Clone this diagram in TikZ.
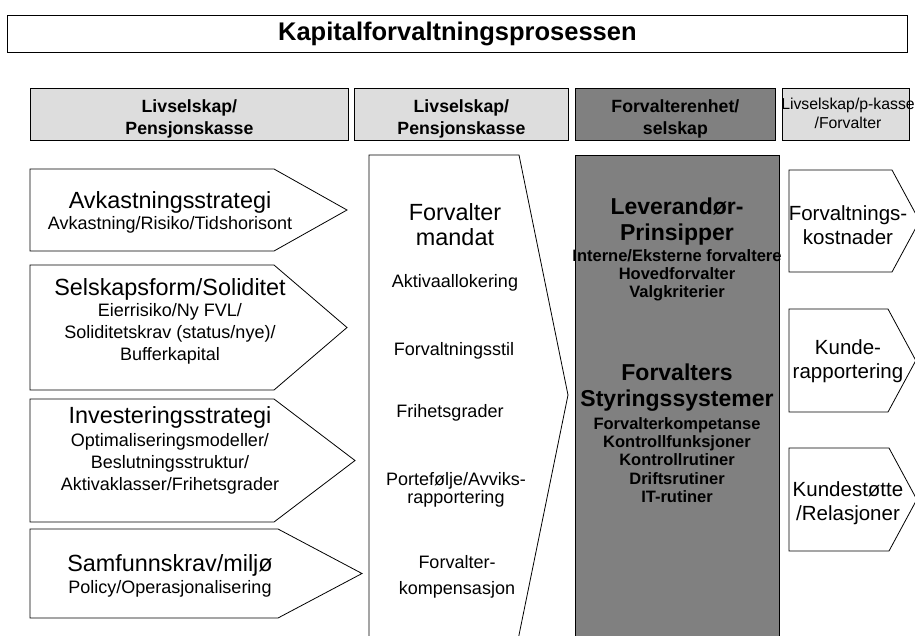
\documentclass[tikz,border=0pt]{standalone}
\usepackage{fontspec}
\setmainfont{Liberation Sans}
\newcommand*{\Fs}[2]{\fontsize{#1}{#2}\selectfont}
\newcommand*{\hdstrut}{\rule{0pt}{21pt}}
\definecolor{hdgrey}{HTML}{DDDDDD}
\definecolor{unitgrey}{HTML}{808080}

\begin{document}
\begin{tikzpicture}[x=1pt, y=-1pt, line width=0.8pt,
    head/.style={draw, fill=hdgrey, anchor=north west, minimum height=52, inner sep=0pt, align=center, font=\bfseries\Fs{17.7}{22}},
    txt/.style={align=center, inner sep=0pt},
    big/.style={txt, font=\Fs{23.4}{25}},
    small/.style={txt, font=\Fs{18}{21.7}},
    bigb/.style={txt, font=\bfseries\Fs{23}{26}},
    smallb/.style={txt, font=\bfseries\Fs{16.5}{18.2}},
    right/.style={txt, font=\Fs{20.5}{24.5}}]
\useasboundingbox (0,0) rectangle (915,635);
\clip (0,0) rectangle (915,635);

\node[draw, anchor=north west, minimum width=900, minimum height=37, inner sep=0pt, font=\bfseries\Fs{25.5}{30}] (title) at (7,15) {Kapitalforvaltningsprosessen};

\node[head, minimum width=318] (hdA) at (30,88) {\hdstrut Livselskap/\\Pensjonskasse};
\node[head, minimum width=214] (hdB) at (354,88) {\hdstrut Livselskap/\\Pensjonskasse};
\node[head, fill=unitgrey, minimum width=200] (hdC) at (575,88) {\hdstrut Forvalterenhet/\\selskap};
\draw[fill=hdgrey] (782,88) rectangle (909,140);
\node[txt, font=\Fs{15.8}{19}] (hdD) at (848,113) {Livselskap/p-kasse\\/Forvalter};

\foreach \t/\b/\c/\p in {169/251/274/347, 265/390/274/347, 399/522/274/355, 529/618/278/362}
  \draw (30,\t) -- (\c,\t) -- (\p,{(\t+\b)/2}) -- (\c,\b) -- (30,\b) -- cycle;

\foreach \t/\b/\c in {170/272/892, 309/412/888, 448/551/889}
  \draw (789,\t) -- (\c,\t) -- ({\c+0.27*(\b-\t)},{(\t+\b)/2}) -- (\c,\b) -- (789,\b) -- cycle;

\draw (369,640) -- (369,155) -- (519,155) -- (568,395) -- (519,635) -- (518,640);
\draw[fill=unitgrey] (575,155) rectangle (779,645);

\node[big] (avk) at (170,202) {Avkastningsstrategi};
\node[small] (avkSub) at (170,225) {Avkastning/Risiko/Tidshorisont};
\node[big] (sel) at (170,289) {Selskapsform/Soliditet};
\node[small] (selSub) at (170,334) {Eierrisiko/Ny FVL/\\Soliditetskrav (status/nye)/\\Bufferkapital};
\node[big] (inv) at (170,417) {Investeringsstrategi};
\node[small] (invSub) at (170,464) {Optimaliseringsmodeller/\\Beslutningsstruktur/\\Aktivaklasser/Frihetsgrader};
\node[big] (sam) at (170,565) {Samfunnskrav/miljø};
\node[small] (samSub) at (170,589) {Policy/Operasjonalisering};

\node[big] (mandat) at (455,225) {Forvalter\\mandat};
\node[small] (allok) at (455,283) {Aktivaallokering};
\node[small] (stil) at (454,351) {Forvaltningsstil};
\node[small] (frihet) at (450,413) {Frihetsgrader};
\node[small, font=\Fs{18}{18}] (avvik) at (456,490) {Portefølje/Avviks-\\rapportering};
\node[small, font=\Fs{18}{26}] (komp) at (457,577) {Forvalter-\\kompensasjon};

\node[bigb] (lev) at (677,222) {Leverandør-\\Prinsipper};
\node[smallb] (levSub) at (677,275.5) {Interne/Eksterne forvaltere\\Hovedforvalter\\Valgkriterier};
\node[bigb] (styr) at (677,388) {Forvalters\\Styringssystemer};
\node[smallb] (styrSub) at (677,460) {Forvalterkompetanse\\Kontrollfunksjoner\\Kontrollrutiner\\Driftsrutiner\\IT-rutiner};

\node[right] (kost) at (848,225) {Forvaltnings-\\kostnader};
\node[right] (rapp) at (848,361) {Kunde-\\rapportering};
\node[right] (stotte) at (848,503) {Kundestøtte\\/Relasjoner};
\end{tikzpicture}
\end{document}
